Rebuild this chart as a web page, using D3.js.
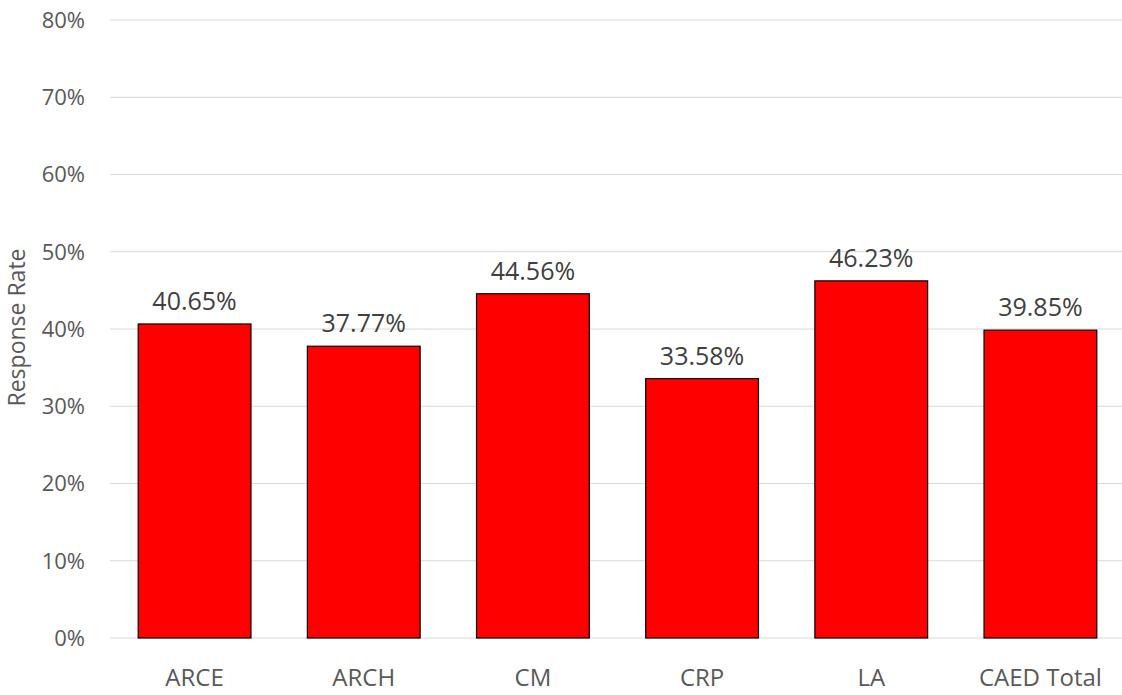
<!DOCTYPE html>
<html>
<head>
<meta charset="utf-8">
<script src="https://cdn.jsdelivr.net/npm/d3@7"></script>
<style>
  body { margin: 0; background: #fff; }
  text { font-family: "Open Sans", sans-serif; }
</style>
</head>
<body>
<svg id="chart"></svg>
<script>
const categories = ["ARCE", "ARCH", "CM", "CRP", "LA", "CAED Total"];
const rates = [40.65, 37.77, 44.56, 33.58, 46.23, 39.85];
const yTicks = [0, 10, 20, 30, 40, 50, 60, 70, 80];

const width = 1122, height = 695;
const margin = {top: 20, right: -3, bottom: 57, left: 110};

let svg = d3.select("#chart")
    .attr("width", width)
    .attr("height", height);

let x = d3.scaleBand()
    .domain(categories)
    .range([margin.left, width - margin.right])
    .paddingInner(1/3)
    .paddingOuter(1/6);

let y = d3.scaleLinear()
    .domain([0, 80])
    .range([height - margin.bottom, margin.top]);

// gridlines
svg.append("g")
    .selectAll("line")
    .data(yTicks)
    .enter()
    .append("line")
    .attr("x1", margin.left)
    .attr("x2", width)
    .attr("y1", d => y(d))
    .attr("y2", d => y(d))
    .style("stroke", "#d9d9d9")
    .style("stroke-width", 1);

// y tick labels
svg.append("g")
    .selectAll("text")
    .data(yTicks)
    .enter()
    .append("text")
    .attr("x", 85)
    .attr("y", d => y(d))
    .attr("dy", "0.36em")
    .style("text-anchor", "end")
    .style("font-size", "22px")
    .style("fill", "#595959")
    .text(d => d + "%");

// bars
svg.append("g")
    .selectAll("rect")
    .data(rates)
    .enter()
    .append("rect")
    .attr("x", (d, i) => x(categories[i]))
    .attr("y", d => y(d))
    .attr("width", x.bandwidth())
    .attr("height", d => y(0) - y(d))
    .style("fill", "#ff0000")
    .style("stroke", "#000")
    .style("stroke-width", 1.2);

// value labels
svg.append("g")
    .selectAll("text")
    .data(rates)
    .enter()
    .append("text")
    .attr("x", (d, i) => x(categories[i]) + x.bandwidth() / 2)
    .attr("y", d => y(d) - 14)
    .style("text-anchor", "middle")
    .style("font-size", "25px")
    .style("fill", "#404040")
    .text(d => d.toFixed(2) + "%");

// category labels
svg.append("g")
    .selectAll("text")
    .data(categories)
    .enter()
    .append("text")
    .attr("x", d => x(d) + x.bandwidth() / 2)
    .attr("y", 686)
    .style("text-anchor", "middle")
    .style("font-size", "24px")
    .style("fill", "#595959")
    .text(d => d);

// y axis title
svg.append("text")
    .attr("transform", `translate(25,${(243 + 412) / 2}) rotate(-90)`)
    .style("text-anchor", "middle")
    .style("font-size", "23px")
    .style("fill", "#595959")
    .text("Response Rate");
</script>
</body>
</html>
